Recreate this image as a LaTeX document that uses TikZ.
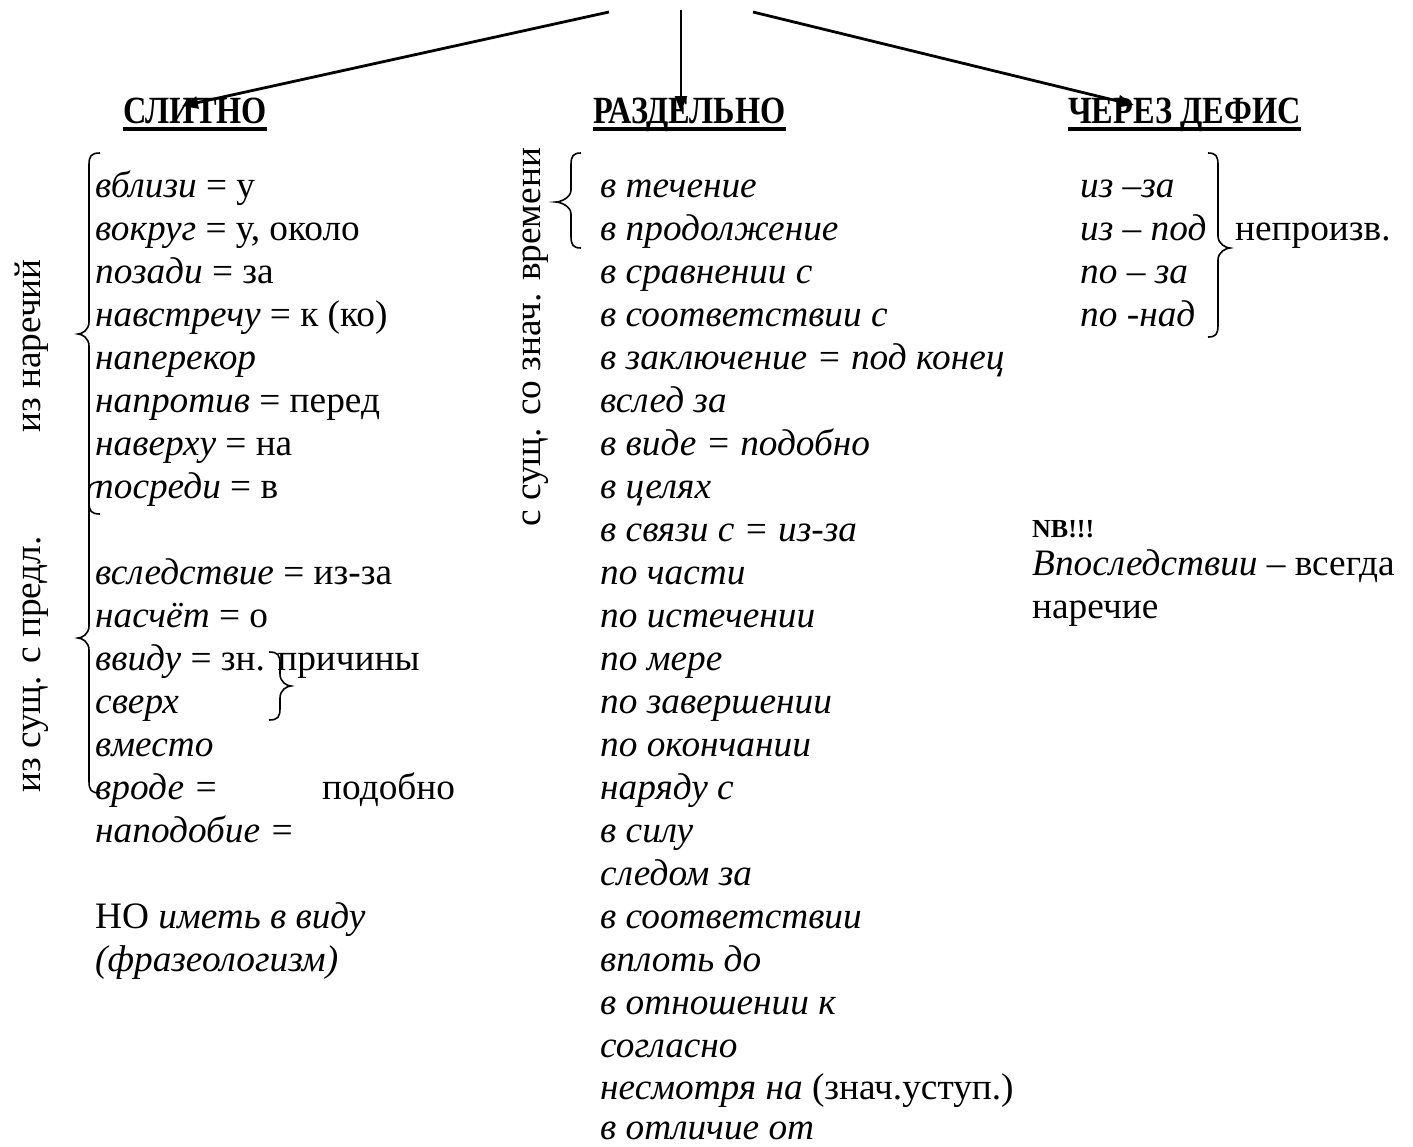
\documentclass[tikz,border=0pt]{standalone}
\usepackage{fontspec}
\setmainfont{Liberation Serif}
\usetikzlibrary{arrows.meta}
% left brace: x, top, bottom, tip y, hook width, tip depth
\newcommand\BrL[6]{%
  \draw[brc] ({#1+#5},{-#2}) .. controls ({#1+2},{-#2}) and (#1,{-#2-3}) .. (#1,{-#2-12})
    -- (#1,{-#4+12}) .. controls (#1,{-#4+4}) and ({#1-#6+4},{-#4}) .. ({#1-#6},{-#4})
    .. controls ({#1-#6+4},{-#4}) and (#1,{-#4-4}) .. (#1,{-#4-12})
    -- (#1,{-#3+12}) .. controls (#1,{-#3+3}) and ({#1+2},{-#3}) .. ({#1+#5},{-#3});}
% right brace
\newcommand\BrR[6]{%
  \draw[brc] ({#1-#5},{-#2}) .. controls ({#1-2},{-#2}) and (#1,{-#2-3}) .. (#1,{-#2-12})
    -- (#1,{-#4+12}) .. controls (#1,{-#4+4}) and ({#1+#6-4},{-#4}) .. ({#1+#6},{-#4})
    .. controls ({#1+#6-4},{-#4}) and (#1,{-#4-4}) .. (#1,{-#4-12})
    -- (#1,{-#3+12}) .. controls (#1,{-#3+3}) and ({#1-2},{-#3}) .. ({#1-#5},{-#3});}
\newcommand\cond[1]{\scalebox{0.84}[1]{#1}}
\begin{document}
\begin{tikzpicture}[x=1pt,y=1pt,
  t/.style={anchor=base west, inner sep=0pt, font=\fontsize{37.3}{43}\selectfont},
  hd/.style={anchor=base west, inner sep=0pt, font=\fontsize{38.5}{43}\selectfont\bfseries},
  brc/.style={line width=1.6pt},
  arr/.style={line width=2.8pt, -{Triangle[length=16pt,width=12pt]}},
  uline/.style={line width=3.2pt}]
\useasboundingbox (0,0) rectangle (1413,-1146);

% headings
\node[hd] (h1) at (123,-123) {\cond{СЛИТНО}};
\node[hd] (h2) at (593,-123) {\cond{РАЗДЕЛЬНО}};
\node[hd] (h3) at (1068,-123) {\cond{ЧЕРЕЗ ДЕФИС}};
\draw[uline] ([yshift=-6pt]h1.base west) -- ([yshift=-6pt]h1.base east);
\draw[uline] ([yshift=-6pt]h2.base west) -- ([yshift=-6pt]h2.base east);
\draw[uline] ([yshift=-6pt]h3.base west) -- ([yshift=-6pt]h3.base east);

% arrows
\coordinate (s1) at (609,-12);
\coordinate (s2) at (681,-10);
\coordinate (s3) at (753,-12);
\coordinate (e1) at (182,-106);
\coordinate (e2) at (681,-112);
\coordinate (e3) at (1134,-105);
\draw[arr] (s1) -- (e1);
\draw[arr, line width=2.2pt] (s2) -- (e2);
\draw[arr] (s3) -- (e3);

% left vertical labels
\node[t, rotate=90] (v1) at (40,-433) {из наречий};
\node[t, rotate=90] (v2) at (40,-793) {из сущ. с предл.};

% left column
\node[t] (l0) at (95,-197) {\textit{вблизи} = у};
\node[t] (l1) at (95,-240) {\textit{вокруг} = у, около};
\node[t] (l2) at (95,-283) {\textit{позади} = за};
\node[t] (l3) at (95,-326) {\textit{навстречу} = к (ко)};
\node[t] (l4) at (95,-369) {\textit{наперекор}};
\node[t] (l5) at (95,-412) {\textit{напротив} = перед};
\node[t] (l6) at (95,-455) {\textit{наверху} = на};
\node[t] (l7) at (95,-498) {\textit{посреди} = в};
\node[t] (l9) at (95,-584) {\textit{вследствие} = из-за};
\node[t] (l10) at (95,-627) {\textit{насчёт} = о};
\node[t] (l11) at (95,-670) {\textit{ввиду} = зн. причины};
\node[t] (l12) at (95,-713) {\textit{сверх}};
\node[t] (l13) at (95,-756) {\textit{вместо}};
\node[t] (l14) at (95,-799) {\textit{вроде =}};
\node[t] (l14b) at (322,-799) {подобно};
\node[t] (l15) at (95,-842) {\textit{наподобие =}};
\node[t] (l17) at (95,-928) {НО \textit{иметь в виду}};
\node[t] (l18) at (95,-971) {\textit{(фразеологизм)}};

% left braces
\BrL{89}{153}{514}{334}{11}{11}
\BrL{89}{482}{793}{638}{11}{11}
\BrR{280}{652}{720}{686}{11}{11}

% middle vertical label and brace
\node[t, rotate=90] (v3) at (540,-527) {с сущ. со знач. времени};
\BrL{571}{153}{248}{202}{10}{15}

% middle column
\node[t] (m0) at (600,-197) {\textit{в течение}};
\node[t] (m1) at (600,-240) {\textit{в продолжение}};
\node[t] (m2) at (600,-283) {\textit{в сравнении с}};
\node[t] (m3) at (600,-326) {\textit{в соответствии с}};
\node[t] (m4) at (600,-369) {\textit{в заключение = под конец}};
\node[t] (m5) at (600,-412) {\textit{вслед за}};
\node[t] (m6) at (600,-455) {\textit{в виде = подобно}};
\node[t] (m7) at (600,-498) {\textit{в целях}};
\node[t] (m8) at (600,-541) {\textit{в связи с = из-за}};
\node[t] (m9) at (600,-584) {\textit{по части}};
\node[t] (m10) at (600,-627) {\textit{по истечении}};
\node[t] (m11) at (600,-670) {\textit{по мере}};
\node[t] (m12) at (600,-713) {\textit{по завершении}};
\node[t] (m13) at (600,-756) {\textit{по окончании}};
\node[t] (m14) at (600,-799) {\textit{наряду с}};
\node[t] (m15) at (600,-842) {\textit{в силу}};
\node[t] (m16) at (600,-885) {\textit{следом за}};
\node[t] (m17) at (600,-928) {\textit{в соответствии}};
\node[t] (m18) at (600,-971) {\textit{вплоть до}};
\node[t] (m19) at (600,-1014) {\textit{в отношении к}};
\node[t] (m20) at (600,-1057) {\textit{согласно}};
\node[t] (m21) at (600,-1099) {\textit{несмотря на} (знач.уступ.)};
\node[t] (m22) at (600,-1139) {\textit{в отличие от}};

% right column
\node[t] (r0) at (1080,-197) {\textit{из –за}};
\node[t] (r1) at (1080,-240) {\textit{из – под}};
\node[t] (r2) at (1080,-283) {\textit{по – за}};
\node[t] (r3) at (1080,-326) {\textit{по -над}};
\BrR{1218}{153}{337}{248}{10}{12}
\node[t] (r4) at (1235,-240) {непроизв.};

% NB
\node[anchor=base west, inner sep=0pt, font=\fontsize{26}{30}\selectfont\bfseries] (nb) at (1032,-537) {NB!!!};
\node[t] (nb1) at (1032,-575) {\textit{Впоследствии} – всегда};
\node[t] (nb2) at (1032,-618) {наречие};
\end{tikzpicture}
\end{document}
